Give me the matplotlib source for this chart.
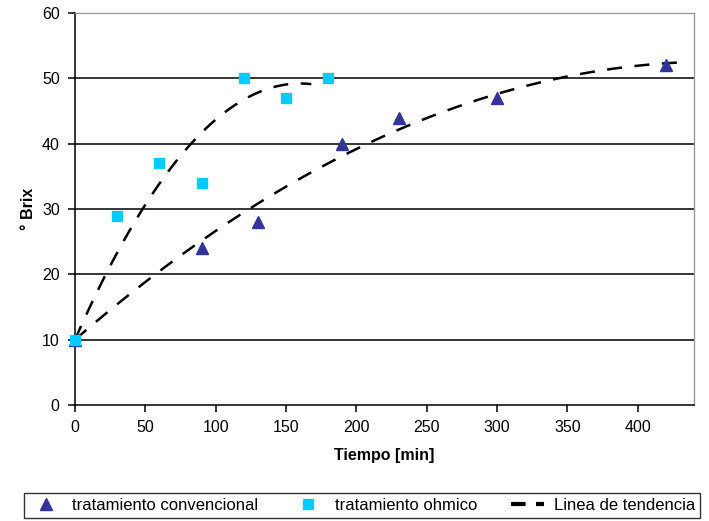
import numpy as np
import matplotlib.pyplot as plt
from matplotlib.lines import Line2D

plt.rcParams['font.family'] = ['Liberation Sans', 'DejaVu Sans']

# Data
t_conv = [0, 90, 130, 190, 230, 300, 420]
brix_conv = [10, 24, 28, 40, 44, 47, 52]
t_ohm = [0, 30, 60, 90, 120, 150, 180]
brix_ohm = [10, 29, 37, 34, 50, 47, 50]
y0 = 10  # trend lines forced through the starting value


def trend(t, y, x):
    # order-2 polynomial with fixed intercept y0
    t = np.asarray(t, float)
    A = np.column_stack([t, t**2])
    a, b = np.linalg.lstsq(A, np.asarray(y, float) - y0, rcond=None)[0]
    return y0 + a * x + b * x**2


xc = np.linspace(0, 430, 200)
xo = np.linspace(0, 168, 100)

fig = plt.figure(figsize=(7.09, 5.21), dpi=100)
ax = fig.add_axes([75/709, 1 - 405/521, 619/709, 392/521])

for yv in range(10, 61, 10):
    ax.axhline(yv, color='black', lw=1.1, zorder=1)

dash = (0, (6, 5))
ax.plot(xo, trend(t_ohm, brix_ohm, xo), color='black', lw=1.8, ls=dash, zorder=2)
ax.plot(xc, trend(t_conv, brix_conv, xc), color='black', lw=1.8, ls=dash, zorder=2)

ax.plot(t_conv, brix_conv, '^', color='#333399', ms=8, mec='#333399', zorder=3, clip_on=False)
ax.plot(t_ohm, brix_ohm, 's', color='#00CCFF', ms=7.5, mec='#00CCFF', zorder=3, clip_on=False)

ax.set_xlim(0, 440)
ax.set_ylim(0, 60)
ax.set_xticks(range(0, 401, 50))
ax.set_yticks(range(0, 61, 10))
ax.tick_params(labelsize=11.5, length=5, width=1.1, direction='out', pad=6)
ax.spines['left'].set_linewidth(1.1)
ax.spines['bottom'].set_linewidth(1.1)
for s in ('top', 'right'):
    ax.spines[s].set_color('#999999')
    ax.spines[s].set_linewidth(1.0)
ax.set_xlabel('Tiempo [min]', fontsize=11.5, fontweight='bold', labelpad=9)
ax.set_ylabel('° Brix', fontsize=11.5, fontweight='bold', labelpad=4)

handles = [
    Line2D([], [], ls='none', marker='^', color='#333399', ms=8),
    Line2D([], [], ls='none', marker='s', color='#00CCFF', ms=7.5),
    Line2D([], [], color='black', lw=3, ls=(0, (3.5, 2.5))),
]
labels = ['tratamiento convencional', 'tratamiento ohmico', 'Linea de tendencia']
leg = fig.legend(handles, labels, loc='lower left', bbox_to_anchor=(24/709, 3/521),
                 ncol=3, fontsize=12, frameon=True, fancybox=False,
                 edgecolor='black', handlelength=2.0, columnspacing=2.0,
                 borderpad=0.3, handletextpad=0.6, borderaxespad=0)
leg.get_frame().set_linewidth(1.0)

fig.savefig('out.png', dpi=100)
